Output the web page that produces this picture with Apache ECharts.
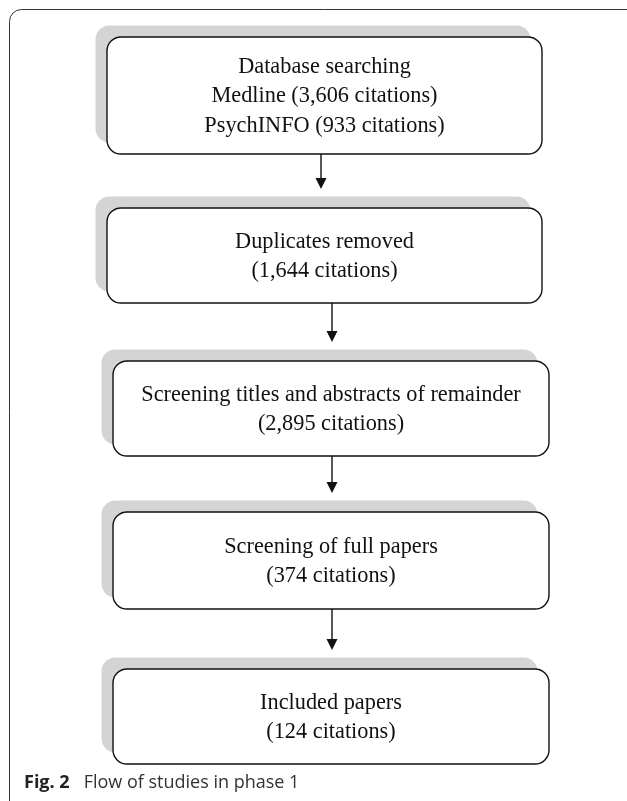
<!DOCTYPE html>
<html>
<head>
<meta charset="utf-8">
<script src="https://cdn.jsdelivr.net/npm/echarts@6/dist/echarts.min.js"></script>
<style>
html,body{margin:0;padding:0;background:#fff;}
#chart{width:627px;height:801px;}
</style>
</head>
<body>
<div id="chart"></div>
<script>
// ---- data ----
const stageTitles = ['Database searching', 'Duplicates removed', 'Screening titles and abstracts of remainder', 'Screening of full papers', 'Included papers'];
const sourceNames = ['Medline', 'PsychINFO'];
const sourceCitations = [3606, 933];
const stageCitations = [null, 1644, 2895, 374, 124];
const captionLabel = 'Fig. 2';
const captionText = 'Flow of studies in phase 1';

// ---- layout (page units) ----
const boxLeft   = [107, 107, 113, 113, 113];
const boxRight  = [542, 542, 549, 549, 549];
const boxTop    = [37, 208, 361, 512, 669];
const boxBottom = [154, 303, 456, 609, 764];
const arrowX    = [321, 332, 332, 332];

const fmt = n => n.toLocaleString('en-US');
function stageLines(i) {
  if (i === 0) {
    return [stageTitles[0]].concat(sourceNames.map((s, k) => s + ' (' + fmt(sourceCitations[k]) + ' citations)'));
  }
  return [stageTitles[i], '(' + fmt(stageCitations[i]) + ' citations)'];
}

const chart = echarts.init(document.getElementById('chart'), null, {renderer: 'canvas'});
const SH = 11.5, R = 14, LH = 29.5;

function renderItem(params, api) {
  const i = api.value(0);
  const p0 = api.coord([boxLeft[i], boxTop[i]]);
  const p1 = api.coord([boxRight[i], boxBottom[i]]);
  const w = p1[0] - p0[0], h = p1[1] - p0[1];
  const children = [];
  children.push({type: 'rect', shape: {x: p0[0] - SH, y: p0[1] - SH, width: w, height: h, r: R},
    style: {fill: '#d3d4d3', stroke: null}});
  children.push({type: 'rect', shape: {x: p0[0], y: p0[1], width: w, height: h, r: R},
    style: {fill: '#fff', stroke: '#111', lineWidth: 1.4}});
  const lines = stageLines(i);
  const cy = (p0[1] + p1[1]) / 2 + 1;
  const cx = (p0[0] + p1[0]) / 2;
  lines.forEach((t, k) => {
    children.push({type: 'text', style: {x: cx, y: cy + (k - (lines.length - 1) / 2) * LH, text: t,
      fill: '#111', font: '22.3px "Liberation Serif", "Times New Roman", serif', align: 'center', verticalAlign: 'middle'}});
  });
  if (i < stageTitles.length - 1) {
    const a0 = api.coord([arrowX[i], boxBottom[i]]);
    const a1 = api.coord([arrowX[i], boxTop[i + 1] - 19]);
    children.push({type: 'line', shape: {x1: a0[0], y1: a0[1], x2: a1[0], y2: a1[1] - 10},
      style: {stroke: '#111', lineWidth: 1.4}});
    children.push({type: 'polygon', shape: {points: [[a1[0] - 5.5, a1[1] - 11], [a1[0] + 5.5, a1[1] - 11], [a1[0], a1[1]]]},
      style: {fill: '#111'}});
  }
  return {type: 'group', children: children};
}

chart.setOption({
  animation: false,
  backgroundColor: '#fff',
  grid: {left: 0, right: 0, top: 0, bottom: 0},
  xAxis: {type: 'value', min: 0, max: 627, show: false},
  yAxis: {type: 'value', min: 0, max: 801, inverse: true, show: false},
  title: {
    text: '{b|' + captionLabel + '}{g|}' + captionText,
    left: 24, top: 774,
    padding: 0,
    textStyle: {fontFamily: '"Open Sans", sans-serif', fontSize: 18, fontWeight: 'normal', color: '#333',
      rich: {
        b: {fontFamily: '"Open Sans", sans-serif', fontSize: 18, fontWeight: 'bold', color: '#222'},
        g: {width: 14}
      }}
  },
  graphic: [{type: 'rect', shape: {x: 9.5, y: 9.5, width: 800, height: 900, r: 12}, style: {fill: null, stroke: '#333', lineWidth: 1}, z: -1}],
  series: [{
    type: 'custom',
    renderItem: renderItem,
    data: stageTitles.map((t, i) => [i]),
    clip: false
  }]
});
</script>
</body>
</html>
